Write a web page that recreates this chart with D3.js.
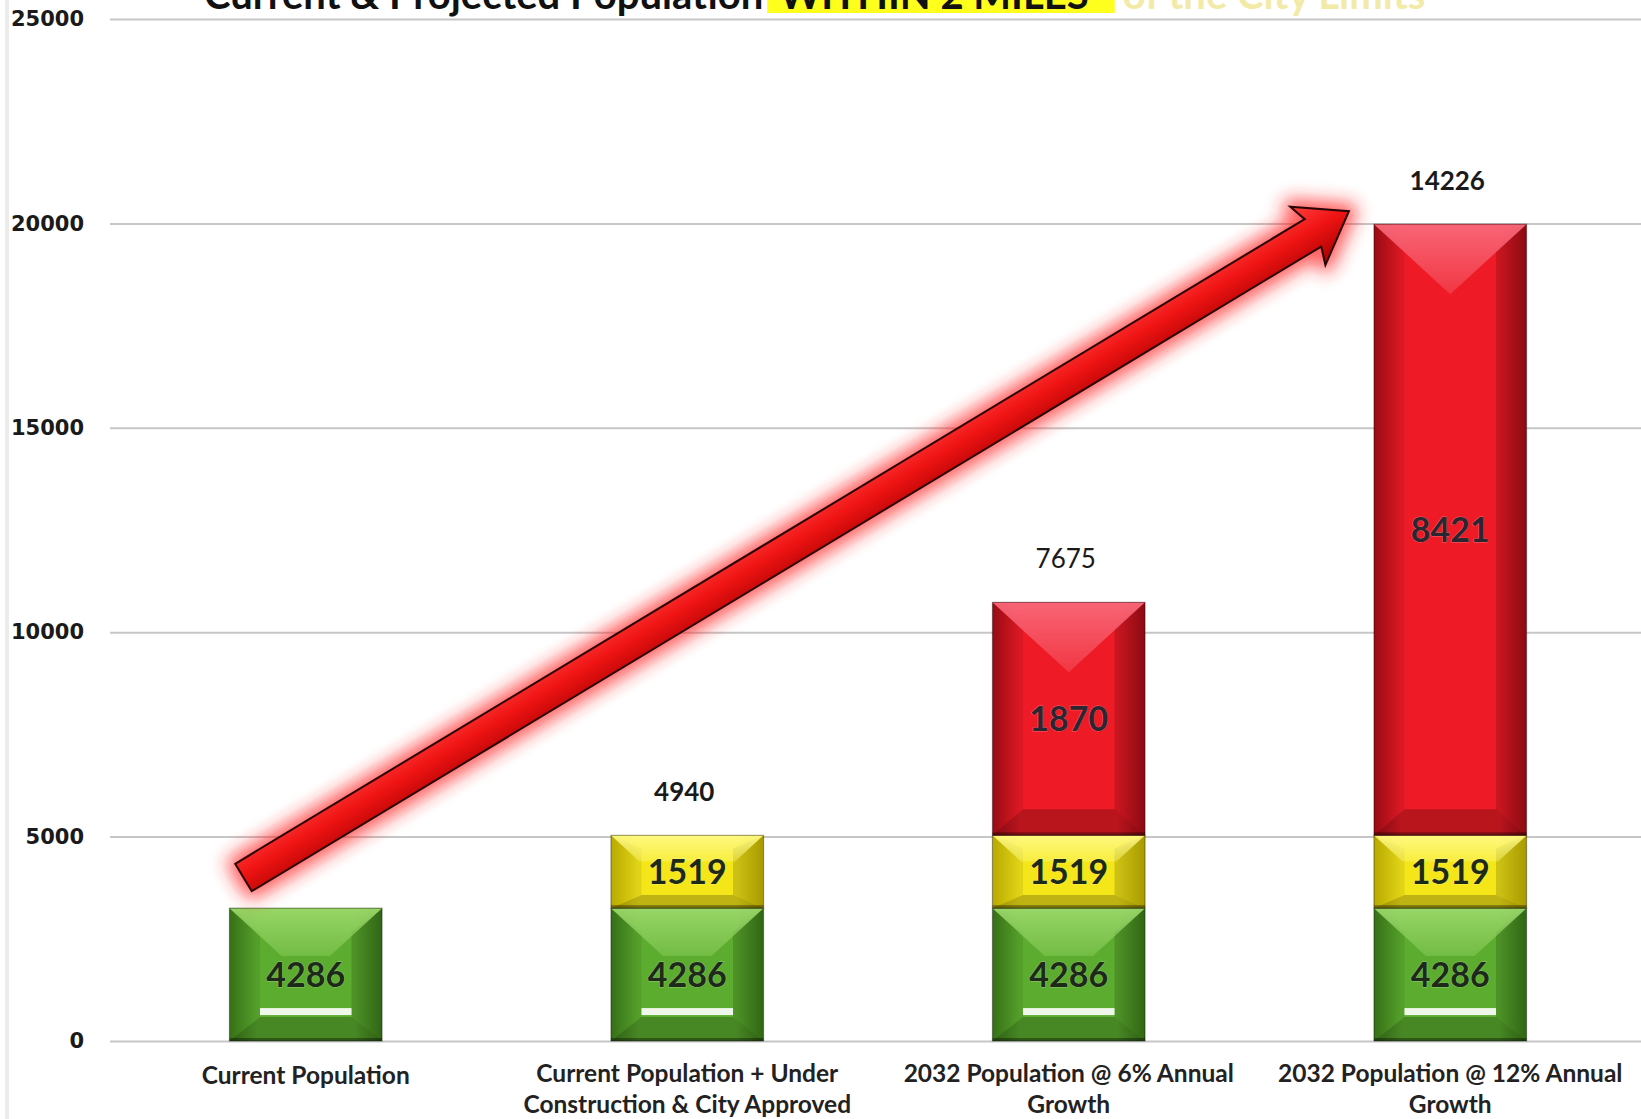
<!DOCTYPE html>
<html>
<head>
<meta charset="utf-8">
<script src="https://cdn.jsdelivr.net/npm/d3@7"></script>
<style>
  html, body { margin: 0; padding: 0; background: #fff; }
  svg { display: block; }
</style>
</head>
<body>
<div id="chart"></div>
<script>
// chart data
const categories = ["Current Population", "Current Population + Under Construction & City Approved",
  "2032 Population @ 6% Annual Growth", "2032 Population @ 12% Annual Growth"];
const categoryLines = [["Current Population"], ["Current Population + Under", "Construction & City Approved"],
  ["2032 Population @ 6% Annual", "Growth"], ["2032 Population @ 12% Annual", "Growth"]];

// printed labels
const currentLabels = [4286, 4286, 4286, 4286];
const approvedLabels = [null, 1519, 1519, 1519];
const growthLabels = [null, null, 1870, 8421];
const totalLabels = [null, 4940, 7675, 14226];
const totalBold = [false, true, false, true];

// heights as drawn on the picture (they don't follow the printed labels)
const currentHeights = [3250, 3250, 3250, 3250];
const approvedHeights = [0, 1780, 1780, 1780];
const growthHeights = [0, 0, 5700, 14950];

const yTicks = [0, 5000, 10000, 15000, 20000, 25000];

const W = 1641, H = 1119;
const svg = d3.select("#chart").append("svg").attr("width", W).attr("height", H);
const defs = svg.append("defs");

const x = d3.scaleBand().domain(categories).range([115, 1641]).paddingInner(0.6).paddingOuter(0.3);
const y = d3.scaleLinear().domain([0, 25000]).range([1041, 19]);

// faint scan edge on the left
svg.append("rect").attr("x", 5).attr("y", 0).attr("width", 4).attr("height", H).attr("fill", "#ececec");

// title (cut off at the top of the page, as in the scan)
const title = svg.append("g").attr("font-family", "Lato, sans-serif").attr("font-weight", 700).attr("font-size", 40);
const t1 = title.append("text").attr("x", 204).attr("y", 9).attr("fill", "#111").text("Current & Projected Population ");
const w1 = t1.node().getComputedTextLength();
const t2 = title.append("text").attr("x", 204 + w1 + 16).attr("y", 9).attr("fill", "#111").text("WITHIN 2 MILES");
const w2 = t2.node().getComputedTextLength();
title.insert("rect", "text:nth-child(2)").attr("x", 204 + w1 + 4).attr("y", 0)
  .attr("width", w2 + 38).attr("height", 13).attr("fill", "#ffff1e");
title.append("text").attr("x", 204 + w1 + w2 + 50).attr("y", 9).attr("fill", "#f3eaa8").text("of the City Limits");

// y axis with gridlines
const yAxis = svg.append("g").attr("transform", "translate(110,0)")
  .call(d3.axisLeft(y).tickValues(yTicks).tickSize(-(W - 110)).tickPadding(26).tickFormat(d3.format("d")));
yAxis.select(".domain").remove();
yAxis.selectAll(".tick line").attr("stroke", "#c6c6c6").attr("stroke-width", 2);
yAxis.selectAll(".tick text").attr("font-family", "DejaVu Sans, sans-serif").attr("font-weight", 700)
  .attr("font-size", 21).attr("fill", "#1a1a1a");

// bevelled segments
const palettes = {
  green: { base: "#5cad2f", light: "#9bd86a", edge: "#3b7a19", label: "#1d2a1a" },
  yellow: { base: "#f4e619", light: "#fffa86", edge: "#c9b800", label: "#1d2a1a" },
  red: { base: "#ee1b26", light: "#f9697a", edge: "#a50d16", label: "#2c2532" }
};
Object.entries(palettes).forEach(([k, p]) => {
  const g = defs.append("linearGradient").attr("id", "side-" + k).attr("x1", 0).attr("x2", 1);
  g.append("stop").attr("offset", 0).attr("stop-color", p.edge);
  g.append("stop").attr("offset", 0.18).attr("stop-color", p.base);
  g.append("stop").attr("offset", 0.82).attr("stop-color", p.base);
  g.append("stop").attr("offset", 1).attr("stop-color", p.edge);
  const t = defs.append("linearGradient").attr("id", "top-" + k).attr("x1", 0).attr("y1", 0).attr("x2", 0).attr("y2", 1);
  t.append("stop").attr("offset", 0).attr("stop-color", p.light).attr("stop-opacity", 0.95);
  t.append("stop").attr("offset", 1).attr("stop-color", p.light).attr("stop-opacity", 0.35);
});

const segments = [];
categories.forEach((c, i) => {
  let base = 0;
  [["green", currentHeights[i], currentLabels[i]], ["yellow", approvedHeights[i], approvedLabels[i]],
   ["red", growthHeights[i], growthLabels[i]]].forEach(([kind, h, lab]) => {
    if (h > 0) segments.push({ cat: c, kind, y0: base, y1: base + h, label: lab });
    base += h;
  });
});

const bars = svg.append("g");
segments.forEach(s => {
  const p = palettes[s.kind];
  const x0 = x(s.cat), w = x.bandwidth(), x1 = x0 + w, cx = x0 + w / 2;
  const top = y(s.y1), bot = y(s.y0), h = bot - top;
  const g = bars.append("g");
  g.append("rect").attr("x", x0).attr("y", top).attr("width", w).attr("height", h).attr("fill", `url(#side-${s.kind})`);
  const b = w * 0.2;
  const bb = Math.min(26, h * 0.18);
  // side and bottom bevels
  g.append("path").attr("d", `M${x0},${top}L${x0 + b},${top + bb}L${x0 + b},${bot - bb}L${x0},${bot}Z`)
    .attr("fill", "#000").attr("opacity", 0.08);
  g.append("path").attr("d", `M${x1},${top}L${x1 - b},${top + bb}L${x1 - b},${bot - bb}L${x1},${bot}Z`)
    .attr("fill", "#000").attr("opacity", 0.16);
  g.append("path").attr("d", `M${x0},${bot}L${x0 + b},${bot - bb}L${x1 - b},${bot - bb}L${x1},${bot}Z`)
    .attr("fill", "#000").attr("opacity", 0.22);
  // light V on top
  const depth = Math.min(70, h * 0.36);
  const half = Math.max(0, w / 2 - depth * (w / 2) / 70);
  g.append("path").attr("d", `M${x0},${top}L${x1},${top}L${cx + half},${top + depth}L${cx - half},${top + depth}Z`)
    .attr("fill", `url(#top-${s.kind})`);
  if (s.kind === "green") {
    g.append("rect").attr("x", x0 + b).attr("y", bot - bb - 9).attr("width", w - 2 * b).attr("height", 7)
      .attr("fill", "#fff").attr("opacity", 0.9);
  }
  g.append("rect").attr("x", x0).attr("y", top).attr("width", w).attr("height", h)
    .attr("fill", "none").attr("stroke", "#000").attr("stroke-opacity", 0.35).attr("stroke-width", 1.2);
  g.append("rect").attr("x", x0).attr("y", bot - 3).attr("width", w).attr("height", 3).attr("fill", "#000").attr("opacity", 0.35);
  if (s.label != null) {
    g.append("text").attr("x", cx).attr("y", (top + bot) / 2).attr("dy", "0.36em").attr("text-anchor", "middle")
      .attr("font-family", "Lato, sans-serif").attr("font-weight", 700).attr("font-size", 34)
      .attr("fill", p.label).attr("stroke", "#fff").attr("stroke-opacity", 0.35).attr("stroke-width", 0.8)
      .attr("paint-order", "stroke").text(s.label);
  }
});

// totals above the bars
categories.forEach((c, i) => {
  if (totalLabels[i] == null) return;
  const topVal = currentHeights[i] + approvedHeights[i] + growthHeights[i];
  svg.append("text").attr("x", x(c) + x.bandwidth() / 2 - 3).attr("y", y(topVal) - 34)
    .attr("text-anchor", "middle").attr("font-family", "Lato, sans-serif")
    .attr("font-weight", totalBold[i] ? 700 : 400).attr("font-size", 26).attr("fill", "#1a1a1a").text(totalLabels[i]);
});

// category labels
const catG = svg.append("g").attr("font-family", "Lato, sans-serif").attr("font-weight", 700)
  .attr("font-size", 24.5).attr("fill", "#222").attr("text-anchor", "middle");
categories.forEach((c, i) => {
  const t = catG.append("text").attr("x", x(c) + x.bandwidth() / 2).attr("y", categoryLines[i].length > 1 ? 1082 : 1084);
  categoryLines[i].forEach((ln, j) => t.append("tspan").attr("x", x(c) + x.bandwidth() / 2).attr("dy", j ? 31 : 0).text(ln));
});

// the big red growth arrow, from the first bar up to the last
const glow = defs.append("filter").attr("id", "glow").attr("x", "-20%").attr("y", "-50%").attr("width", "140%").attr("height", "200%");
glow.append("feGaussianBlur").attr("stdDeviation", 9);
const ag = defs.append("linearGradient").attr("id", "arrowFill").attr("x1", 0).attr("y1", 0).attr("x2", 0).attr("y2", 1);
ag.append("stop").attr("offset", 0).attr("stop-color", "#ff4040");
ag.append("stop").attr("offset", 0.45).attr("stop-color", "#f01414");
ag.append("stop").attr("offset", 1).attr("stop-color", "#a80000");

const tail = [x(categories[0]) + 14, y(4000)];
const tip = [x(categories[3]) - 25, y(20300)];
const len = Math.hypot(tip[0] - tail[0], tip[1] - tail[1]);
const ang = Math.atan2(tip[1] - tail[1], tip[0] - tail[0]) * 180 / Math.PI;
const sh = 16, hl = 42, hw = 34;
const arrowPath = `M0,${-sh}L${len - hl},${-sh}L${len - hl - 6},${-hw}L${len},0L${len - hl - 6},${hw}L${len - hl},${sh}L0,${sh}Z`;
const arrow = svg.append("g").attr("transform", `translate(${tail[0]},${tail[1]}) rotate(${ang})`);
arrow.append("path").attr("d", arrowPath).attr("fill", "#ff2020").attr("stroke", "#ff2020")
  .attr("stroke-width", 16).attr("stroke-linejoin", "round").attr("opacity", 0.75).attr("filter", "url(#glow)");
arrow.append("path").attr("d", arrowPath).attr("fill", "url(#arrowFill)").attr("stroke", "#2a0505")
  .attr("stroke-width", 2).attr("stroke-linejoin", "miter");
</script>
</body>
</html>
